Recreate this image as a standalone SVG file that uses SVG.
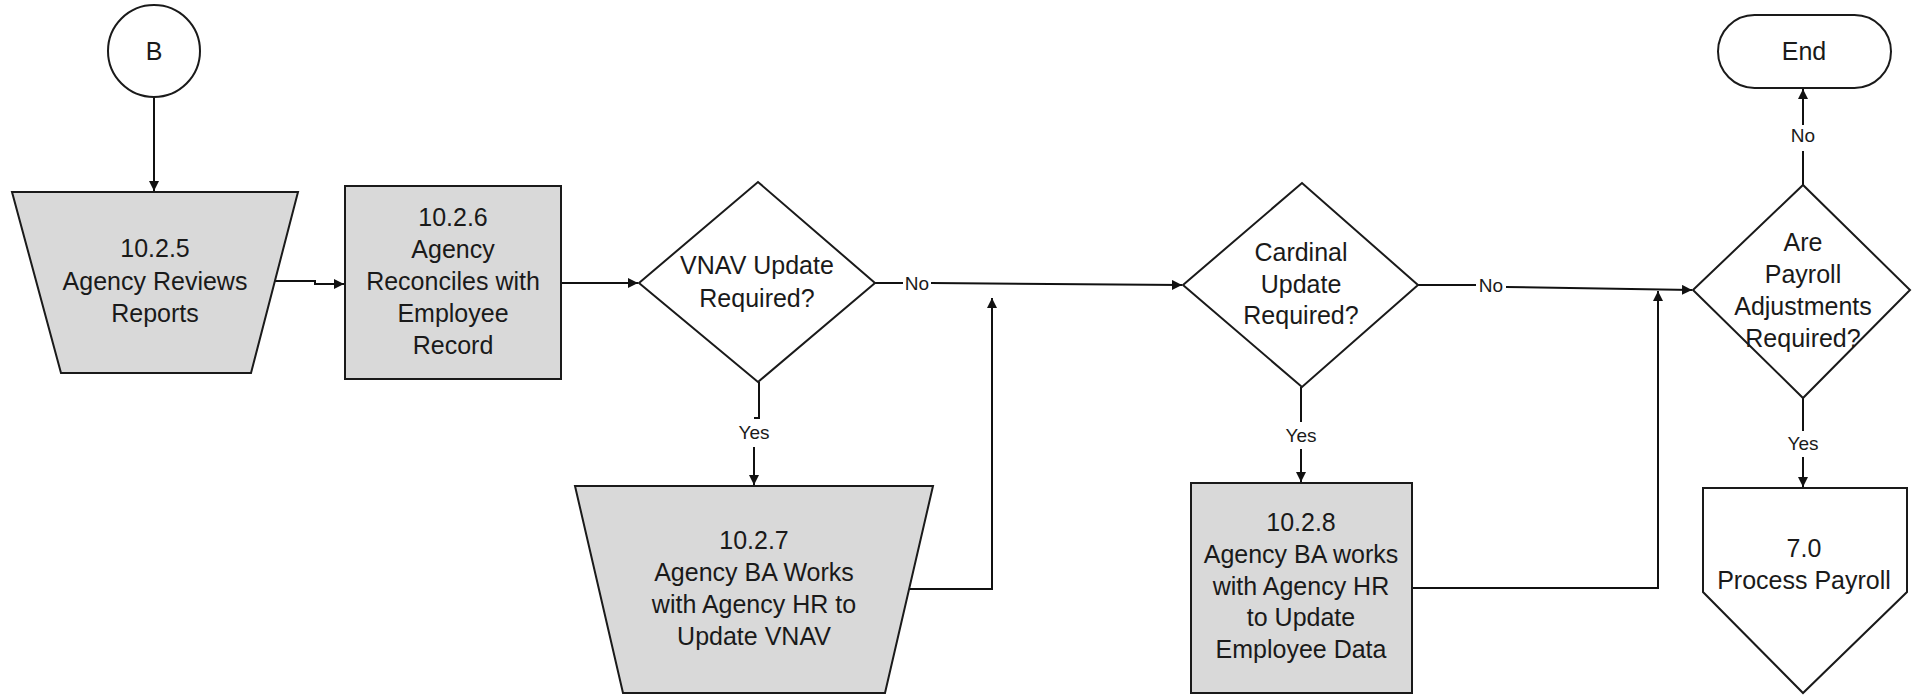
<svg xmlns="http://www.w3.org/2000/svg" width="1912" height="695" viewBox="0 0 1912 695">
<defs>
<marker id="arr" viewBox="0 0 10 10" refX="10" refY="5" markerWidth="10" markerHeight="10" markerUnits="userSpaceOnUse" orient="auto">
<path d="M0,0 L10,5 L0,10 Z" fill="#111"/>
</marker>
<style>
.shape{stroke:#1a1a1a;stroke-width:2;}
.proc{fill:#d9d9d9;}
.plain{fill:#ffffff;}
.t{font-family:"Liberation Sans",Arial,sans-serif;font-size:25px;fill:#1a1a1a;text-anchor:middle;}
.lbl{font-family:"Liberation Sans",Arial,sans-serif;font-size:19px;fill:#1a1a1a;text-anchor:middle;}
.c{fill:none;stroke:#111;stroke-width:2;}
</style>
</defs>
<rect width="1912" height="695" fill="#ffffff"/>

<g id="connectors">
<path class="c" d="M154,97 V191" marker-end="url(#arr)"/>
<path class="c" d="M275,281 H315 V284 H344" marker-end="url(#arr)"/>
<path class="c" d="M561,283 H638" marker-end="url(#arr)"/>
<path class="c" d="M875,283 H903"/>
<text class="lbl" x="917" y="290">No</text>
<path class="c" d="M931,283 L1182,285" marker-end="url(#arr)"/>
<path class="c" d="M759,382 V418 H754"/>
<text class="lbl" x="754" y="439">Yes</text>
<path class="c" d="M754,447 V485" marker-end="url(#arr)"/>
<path class="c" d="M909,589 H992 V298" marker-end="url(#arr)"/>
<path class="c" d="M1418,285 H1476"/>
<text class="lbl" x="1491" y="292">No</text>
<path class="c" d="M1506,287 L1692,290" marker-end="url(#arr)"/>
<path class="c" d="M1301,387 V422"/>
<text class="lbl" x="1301" y="442">Yes</text>
<path class="c" d="M1301,449 V482" marker-end="url(#arr)"/>
<path class="c" d="M1412,588 H1658 V291" marker-end="url(#arr)"/>
<path class="c" d="M1803,185 V151"/>
<text class="lbl" x="1803" y="142">No</text>
<path class="c" d="M1803,125 V89" marker-end="url(#arr)"/>
<path class="c" d="M1803,398 V431"/>
<text class="lbl" x="1803" y="450">Yes</text>
<path class="c" d="M1803,457 V487" marker-end="url(#arr)"/>
</g>

<g id="node-B">
<ellipse class="shape plain" cx="154" cy="51" rx="46" ry="46"/>
<text class="t" x="154" y="60">B</text>
</g>

<g id="node-1025">
<path class="shape proc" d="M12,192 H298 L251,373 H61 Z"/>
<text class="t" x="155" y="257">10.2.5<tspan x="155" dy="32.5">Agency Reviews</tspan><tspan x="155" dy="32.5">Reports</tspan></text>
</g>

<g id="node-1026">
<rect class="shape proc" x="345" y="186" width="216" height="193"/>
<text class="t" x="453" y="226">10.2.6<tspan x="453" dy="32">Agency</tspan><tspan x="453" dy="32">Reconciles with</tspan><tspan x="453" dy="32">Employee</tspan><tspan x="453" dy="32">Record</tspan></text>
</g>

<g id="node-vnav">
<path class="shape plain" d="M639,283 L758,182 L875,283 L758,382 Z"/>
<text class="t" x="757" y="274">VNAV Update<tspan x="757" dy="33">Required?</tspan></text>
</g>

<g id="node-1027">
<path class="shape proc" d="M575,486 H933 L885,693 H623 Z"/>
<text class="t" x="754" y="549">10.2.7<tspan x="754" dy="32">Agency BA Works</tspan><tspan x="754" dy="32">with Agency HR to</tspan><tspan x="754" dy="32">Update VNAV</tspan></text>
</g>

<g id="node-cardinal">
<path class="shape plain" d="M1183,285 L1302,183 L1418,285 L1302,387 Z"/>
<text class="t" x="1301" y="261">Cardinal<tspan x="1301" dy="32">Update</tspan><tspan x="1301" dy="31">Required?</tspan></text>
</g>

<g id="node-1028">
<rect class="shape proc" x="1191" y="483" width="221" height="210"/>
<text class="t" x="1301" y="531">10.2.8<tspan x="1301" dy="32">Agency BA works</tspan><tspan x="1301" dy="32">with Agency HR</tspan><tspan x="1301" dy="31">to Update</tspan><tspan x="1301" dy="32">Employee Data</tspan></text>
</g>

<g id="node-payroll">
<path class="shape plain" d="M1693,290 L1803,185 L1910,290 L1803,398 Z"/>
<text class="t" x="1803" y="251">Are<tspan x="1803" dy="32">Payroll</tspan><tspan x="1803" dy="32">Adjustments</tspan><tspan x="1803" dy="32">Required?</tspan></text>
</g>

<g id="node-end">
<rect class="shape plain" x="1718" y="15" width="173" height="73" rx="36.5" ry="36.5"/>
<text class="t" x="1804" y="60">End</text>
</g>

<g id="node-70">
<path class="shape plain" d="M1703,488 H1907 V592 L1803,693 L1703,592 Z"/>
<text class="t" x="1804" y="557">7.0<tspan x="1804" dy="32">Process Payroll</tspan></text>
</g>
</svg>
